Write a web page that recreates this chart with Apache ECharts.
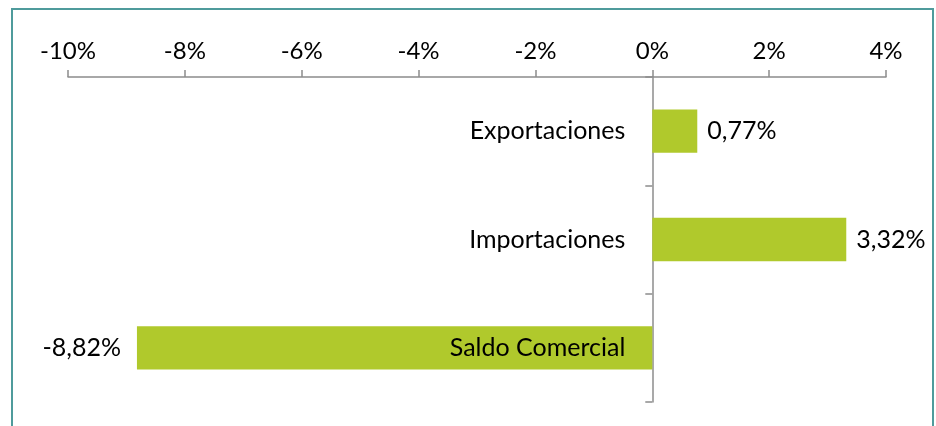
<!DOCTYPE html>
<html>
<head>
<meta charset="utf-8">
<script src="https://cdn.jsdelivr.net/npm/echarts@6/dist/echarts.min.js"></script>
<style>
html, body { margin: 0; padding: 0; background: #fff; }
#main { width: 936px; height: 426px; }
</style>
</head>
<body>
<div id="main"></div>
<script>
var categories = ['Exportaciones', 'Importaciones', 'Saldo Comercial'];
var values = [0.77, 3.32, -8.82];
var xMin = -10, xMax = 4, xStep = 2;

var fontFamily = 'Lato';
var barColor = '#b0c92c';

function pct(v) {
	return String(v).replace('.', ',') + '%';
}

var chart = echarts.init(document.getElementById('main'));
var option = {
	animation: false,
	backgroundColor: '#fff',
	textStyle: { fontFamily: fontFamily },
	graphic: [{
		type: 'rect',
		shape: { x: 12, y: 9, width: 921, height: 440 },
		style: { fill: 'none', stroke: '#4f9b9c', lineWidth: 2 },
		silent: true
	}],
	grid: { left: 68, right: 50, top: 77, bottom: 24, containLabel: false, outerBoundsMode: 'none' },
	xAxis: {
		type: 'value',
		position: 'top',
		min: xMin,
		max: xMax,
		interval: xStep,
		splitLine: { show: false },
		axisLine: { show: true, lineStyle: { color: '#8c8c8c', width: 1.5 } },
		axisTick: { show: true, length: 7, lineStyle: { color: '#8c8c8c', width: 1.5 } },
		axisLabel: {
			margin: 14,
			color: '#000',
			fontSize: 24,
			fontFamily: fontFamily,
			formatter: function (v) { return v + '%'; }
		}
	},
	yAxis: {
		type: 'category',
		data: categories,
		inverse: true,
		axisLine: { show: true, onZero: true, lineStyle: { color: '#8c8c8c', width: 1.5 } },
		axisTick: { show: true, length: 7, lineStyle: { color: '#8c8c8c', width: 1.5 } },
		axisLabel: { show: false }
	},
	series: [{
		type: 'bar',
		barCategoryGap: '60%',
		itemStyle: { color: barColor },
		z: 2,
		data: values.map(function (v) {
			return {
				value: v,
				label: {
					show: true,
					position: v < 0 ? 'left' : 'right',
					distance: v < 0 ? 16 : 10,
					color: '#000',
					fontSize: 25,
					fontFamily: fontFamily,
					formatter: function (p) { return pct(p.value); }
				}
			};
		})
	}, {
		// category names drawn at the zero line, like Excel's axis labels
		type: 'bar',
		barGap: '-100%',
		barCategoryGap: '60%',
		z: 5,
		silent: true,
		itemStyle: { color: 'transparent' },
		data: categories.map(function () { return 0; }),
		label: {
			show: true,
			position: 'left',
			distance: 27,
			color: '#000',
			fontSize: 25,
			fontFamily: fontFamily,
			formatter: function (p) { return categories[p.dataIndex]; }
		}
	}]
};
chart.setOption(option);
</script>
</body>
</html>
